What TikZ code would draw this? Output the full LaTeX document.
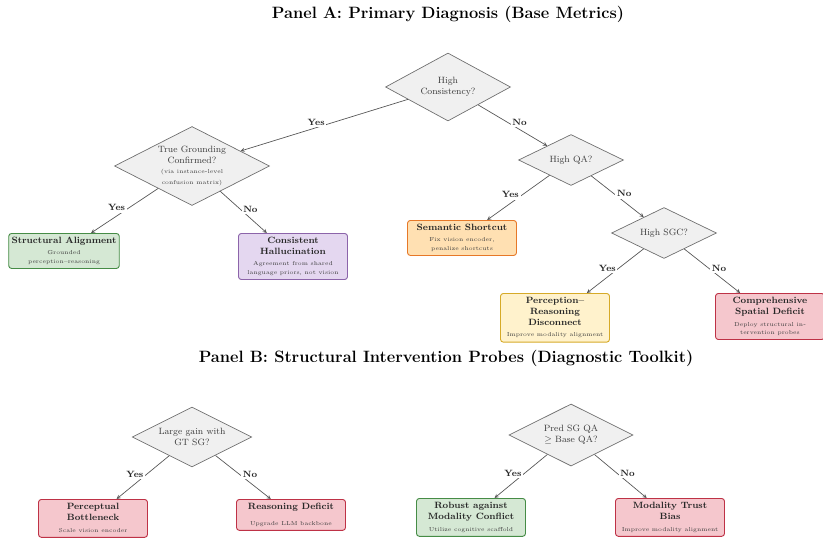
\documentclass[tikz,border=0pt]{standalone}
\usepackage{amsmath}
\usepackage{amssymb}
\usepackage{tikz}
\usetikzlibrary{shapes.geometric,arrows}
\usepackage{color}
\definecolor{dgline}{RGB}{85,85,85}
\definecolor{dgtext}{RGB}{60,60,60}
\definecolor{dqfill}{RGB}{240,240,240}
\definecolor{dqdraw}{RGB}{110,110,110}
\definecolor{okfill}{RGB}{213,232,212}
\definecolor{okdraw}{RGB}{70,140,70}
\definecolor{warnfill}{RGB}{255,224,178}
\definecolor{warndraw}{RGB}{230,120,40}
\definecolor{midfill}{RGB}{255,242,204}
\definecolor{middraw}{RGB}{214,170,40}
\definecolor{badfill}{RGB}{245,199,205}
\definecolor{baddraw}{RGB}{190,50,70}
\definecolor{halfill}{RGB}{228,215,240}
\definecolor{haldraw}{RGB}{140,100,170}
\newcommand{\outcome}[2]{{\footnotesize\bfseries\begin{tabular}{@{}c@{}}#1\end{tabular}}\\[1pt]%
  {\tiny\color{dgtext}\renewcommand{\arraystretch}{1.2}\begin{tabular}{@{}c@{}}#2\end{tabular}}}

\begin{document}
\begin{tikzpicture}[x=0.877pt,y=-0.877pt,
  question/.style={diamond, draw=dqdraw, fill=dqfill, line width=0.6pt, inner sep=0pt,
    aspect=2, align=center, font=\footnotesize, text=dgtext},
  result/.style={rectangle, rounded corners=2.5pt, line width=0.8pt, minimum width=95.6pt,
    inner sep=2.5pt, align=center, anchor=north, text=black!85},
  branch/.style={dgline, line width=0.6pt, ->, >=stealth},
  answer/.style={fill=white, inner sep=1.5pt, font=\footnotesize\bfseries, text=black!85},
  yes/.style={answer, xshift=-7pt, yshift=2.5pt},
  no/.style={answer, xshift=6pt, yshift=2.5pt}]
  % Frame
  \useasboundingbox (0,0) rectangle (823,538);
  % Panel A
  \node[font=\Large\bfseries] (titleA) at (448,14) {Panel A: Primary Diagnosis (Base Metrics)};
  \node[question, minimum width=109.6pt, minimum height=59.6pt] (consist) at (448,87) {High\\Consistency?};
  \node[question, minimum width=136pt, minimum height=69.3pt] (ground) at (192,166)
    {True Grounding\\Confirmed?\\{\tiny (via instance-level}\\{\tiny confusion matrix)}};
  \node[question, minimum width=92pt, minimum height=44.7pt] (qa) at (571,160) {High QA?};
  \node[question, minimum width=92pt, minimum height=44.7pt] (sgc) at (664,233) {High SGC?};
  \node[result, fill=okfill, draw=okdraw] (align) at (64,233)
    {\outcome{Structural Alignment}{Grounded\\perception--reasoning}};
  \node[result, fill=halfill, draw=haldraw] (halluc) at (293,233)
    {\outcome{Consistent\\Hallucination}{Agreement from shared\\language priors, not vision}};
  \node[result, fill=warnfill, draw=warndraw] (shortcut) at (462,220)
    {\outcome{Semantic Shortcut}{Fix vision encoder,\\penalize shortcuts}};
  \node[result, fill=midfill, draw=middraw] (disconnect) at (555,293)
    {\outcome{Perception--\\Reasoning\\Disconnect}{Improve modality alignment}};
  \node[result, fill=badfill, draw=baddraw] (deficit) at (770,293)
    {\outcome{Comprehensive\\Spatial Deficit}{Deploy structural in-\\tervention probes}};
  \draw[branch] (consist) -- node[yes] {Yes} (ground);
  \draw[branch] (consist) -- node[no] {No} (qa);
  \draw[branch] (ground) -- node[yes] {Yes} (align);
  \draw[branch] (ground) -- node[no] {No} (halluc);
  \draw[branch] (qa) -- node[yes] {Yes} (shortcut);
  \draw[branch] (qa) -- node[no] {No} (sgc);
  \draw[branch] (sgc) -- node[yes] {Yes} (disconnect);
  \draw[branch] (sgc) -- node[no] {No} (deficit);
  % Panel B
  \node[font=\Large\bfseries] (titleB) at (446,358) {Panel B: Structural Intervention Probes (Diagnostic Toolkit)};
  \node[question, minimum width=105pt, minimum height=52.6pt] (gain) at (192,437) {Large gain with\\GT SG?};
  \node[question, minimum width=108.7pt, minimum height=54.4pt] (conflict) at (571,435) {Pred SG QA\\$\geq$ Base QA?};
  \node[result, fill=badfill, draw=baddraw] (percept) at (93,499)
    {\outcome{Perceptual\\Bottleneck}{Scale vision encoder}};
  \node[result, fill=badfill, draw=baddraw] (reason) at (291,499)
    {\outcome{Reasoning Deficit}{Upgrade LLM backbone}};
  \node[result, fill=okfill, draw=okdraw] (robust) at (471,498)
    {\outcome{Robust against\\Modality Conflict}{Utilize cognitive scaffold}};
  \node[result, fill=badfill, draw=baddraw] (trust) at (670,498)
    {\outcome{Modality Trust\\Bias}{Improve modality alignment}};
  \draw[branch] (gain) -- node[yes] {Yes} (percept);
  \draw[branch] (gain) -- node[no] {No} (reason);
  \draw[branch] (conflict) -- node[yes] {Yes} (robust);
  \draw[branch] (conflict) -- node[no] {No} (trust);
\end{tikzpicture}
\end{document}
